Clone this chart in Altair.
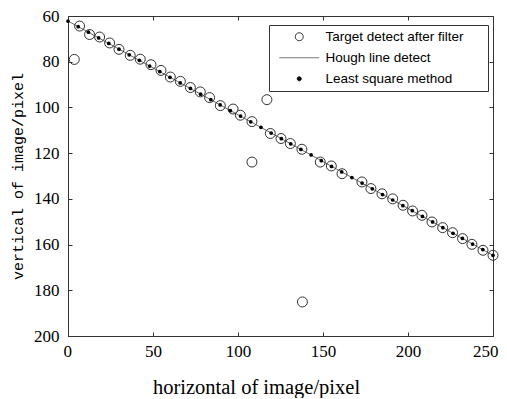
import altair as alt
import pandas as pd

series_names = ["Target detect after filter", "Hough line detect", "Least square method"]

# Target detect after filter (open circles)
target_x = [3.7, 6.8, 12.7, 18.6, 24.5, 30.0, 36.6, 42.5, 48.8, 54.7, 60.2, 66.1, 72.0, 77.8,
            83.3, 89.6, 97.1, 101.4, 108.2, 108.2, 117.0, 119.0, 125.3, 130.8, 137.6, 137.9,
            148.4, 154.9, 161.2, 172.9, 178.2, 184.7, 191.0, 197.1, 202.7, 208.2, 214.1,
            220.4, 226.2, 232.1, 237.6, 244.1, 250.0]
target_y = [79.0, 64.4, 68.1, 69.2, 71.8, 74.6, 77.2, 78.9, 81.3, 83.8, 86.7, 88.6, 91.3, 93.2,
            95.7, 99.2, 100.7, 103.4, 106.2, 123.9, 96.6, 111.4, 113.6, 115.8, 118.3, 185.1,
            123.9, 125.6, 129.0, 132.6, 135.5, 137.8, 140.0, 142.8, 145.3, 147.2, 150.1,
            152.6, 154.8, 157.4, 159.9, 162.5, 164.7]

# Least square method (filled dots)
ls_x = [0, 6, 12, 18, 24, 30, 36, 42, 48, 54, 60, 66, 72, 78, 84, 89.5, 95.5, 101.5, 107.5,
        113.5, 119.5, 125.5, 131, 137, 143, 149, 155, 161, 167, 173, 179, 185, 191, 197,
        202.5, 208.5, 214.5, 220.5, 226.5, 232, 238, 244, 250]
ls_y = [62.2, 64.7, 67.1, 69.6, 72.0, 74.5, 77.0, 79.4, 81.9, 84.3, 86.8, 89.3, 91.7, 94.2,
        96.6, 98.9, 101.4, 103.8, 106.3, 108.7, 111.2, 113.7, 115.9, 118.4, 120.8, 123.3,
        125.8, 128.2, 130.7, 133.1, 135.6, 138.1, 140.5, 143.0, 145.2, 147.7, 150.1, 152.6,
        155.1, 157.3, 159.8, 162.2, 164.7]

# Hough line detect
hough_x = [0, 250]
hough_y = [62.2, 164.7]

x_ticks = [0, 50, 100, 150, 200, 250]
y_ticks = [60, 80, 100, 120, 140, 160, 180, 200]

W, H = 425, 320

target_df = pd.DataFrame({"x": target_x, "y": target_y, "series": series_names[0]})
hough_df = pd.DataFrame({"x": hough_x, "y": hough_y, "series": series_names[1]})
ls_df = pd.DataFrame({"x": ls_x, "y": ls_y, "series": series_names[2]})

xscale = alt.Scale(domain=[0, 250], nice=False, zero=False)
yscale = alt.Scale(domain=[60, 200], reverse=True, nice=False, zero=False)

label_font = "Liberation Serif"

x_main = alt.Axis(orient="bottom", values=x_ticks, ticks=False, tickSize=0, domain=False,
                  labelFont=label_font, labelFontSize=17, labelColor="black", labelPadding=7,
                  labelFlush=True, labelFlushOffset=5,
                  title="horizontal of image/pixel", titleFont="Liberation Serif",
                  titleFontSize=20.5, titleFontWeight="normal", titleColor="black",
                  titleX=188, titleY=57, titleBaseline="alphabetic", titleAnchor="middle",
                  titleAlign="center")
y_main = alt.Axis(orient="left", values=y_ticks, ticks=False, tickSize=0, domain=False,
                  labelFont=label_font, labelFontSize=17, labelColor="black", labelPadding=9,
                  labelFlush=False,
                  title="vertical of image/pixel", titleFont="Liberation Mono",
                  titleFontSize=15, titleFontWeight="normal", titleColor="black",
                  titlePadding=8)

x_in_bottom = alt.Axis(orient="top", offset=-H, values=x_ticks, labels=False, domain=False,
                       ticks=True, tickSize=4, tickColor="#333", title=None)
y_in_left = alt.Axis(orient="right", offset=-W, values=y_ticks, labels=False, domain=False,
                     ticks=True, tickSize=4, tickColor="#333", title=None)
x_in_top = alt.Axis(orient="bottom", offset=-H, values=x_ticks, labels=False, domain=False,
                    ticks=True, tickSize=4, tickColor="#333", title=None)
y_in_right = alt.Axis(orient="left", offset=-W, values=y_ticks, labels=False, domain=False,
                      ticks=True, tickSize=4, tickColor="#333", title=None)

hough = alt.Chart(hough_df).mark_line(color="#444", strokeWidth=0.8).encode(
    x=alt.X("x:Q", scale=xscale, axis=x_main),
    y=alt.Y("y:Q", scale=yscale, axis=y_main),
)

legend = alt.Legend(
    title=".", titleOrient="right", titlePadding=15, titleOpacity=0, titleFontSize=12,
    orient="none", legendX=201, legendY=9,
    strokeColor="#333", fillColor="white", padding=5, cornerRadius=0,
    labelFont="Liberation Sans", labelFontSize=13.5, labelColor="black",
    labelLimit=400, symbolOffset=18.5, labelOffset=19.5, rowPadding=6,
    symbolSize=100, symbolStrokeWidth=1, symbolOpacity=1,
)

circle_path = "M-0.8,0A0.8,0.8 0 1,0 0.8,0A0.8,0.8 0 1,0 -0.8,0Z"
stroke_path = "M-4,0L4,0"
dot_path = "M-0.4,0A0.4,0.4 0 1,0 0.4,0A0.4,0.4 0 1,0 -0.4,0Z"

target = alt.Chart(target_df).mark_point(filled=False, size=156,
                                         strokeWidth=1, opacity=1).encode(
    x=alt.X("x:Q", scale=xscale, axis=x_in_bottom),
    y=alt.Y("y:Q", scale=yscale, axis=y_in_left),
    shape=alt.Shape("series:N",
                    scale=alt.Scale(domain=series_names,
                                    range=[circle_path, stroke_path, dot_path]),
                    legend=legend),
    fill=alt.Fill("series:N",
                  scale=alt.Scale(domain=series_names,
                                  range=["transparent", "transparent", "black"]),
                  legend=legend),
    stroke=alt.Stroke("series:N",
                      scale=alt.Scale(domain=series_names,
                                      range=["#333", "#777", "black"]),
                      legend=legend),
)

ls = alt.Chart(ls_df).mark_circle(size=14, color="black", opacity=1).encode(
    x=alt.X("x:Q", scale=xscale, axis=x_in_top),
    y=alt.Y("y:Q", scale=yscale, axis=y_in_right),
)

chart = alt.layer(hough, target, ls).resolve_axis(
    x="independent", y="independent"
).properties(
    width=W, height=H,
    autosize=alt.AutoSizeParams(type="none"),
    padding={"left": 60, "top": 8, "right": 6, "bottom": 62},
    background="white",
).configure_view(
    stroke="#333", strokeWidth=1
).configure_axis(grid=False)

chart.save("out.html", embed_options={"renderer": "svg", "actions": False})
